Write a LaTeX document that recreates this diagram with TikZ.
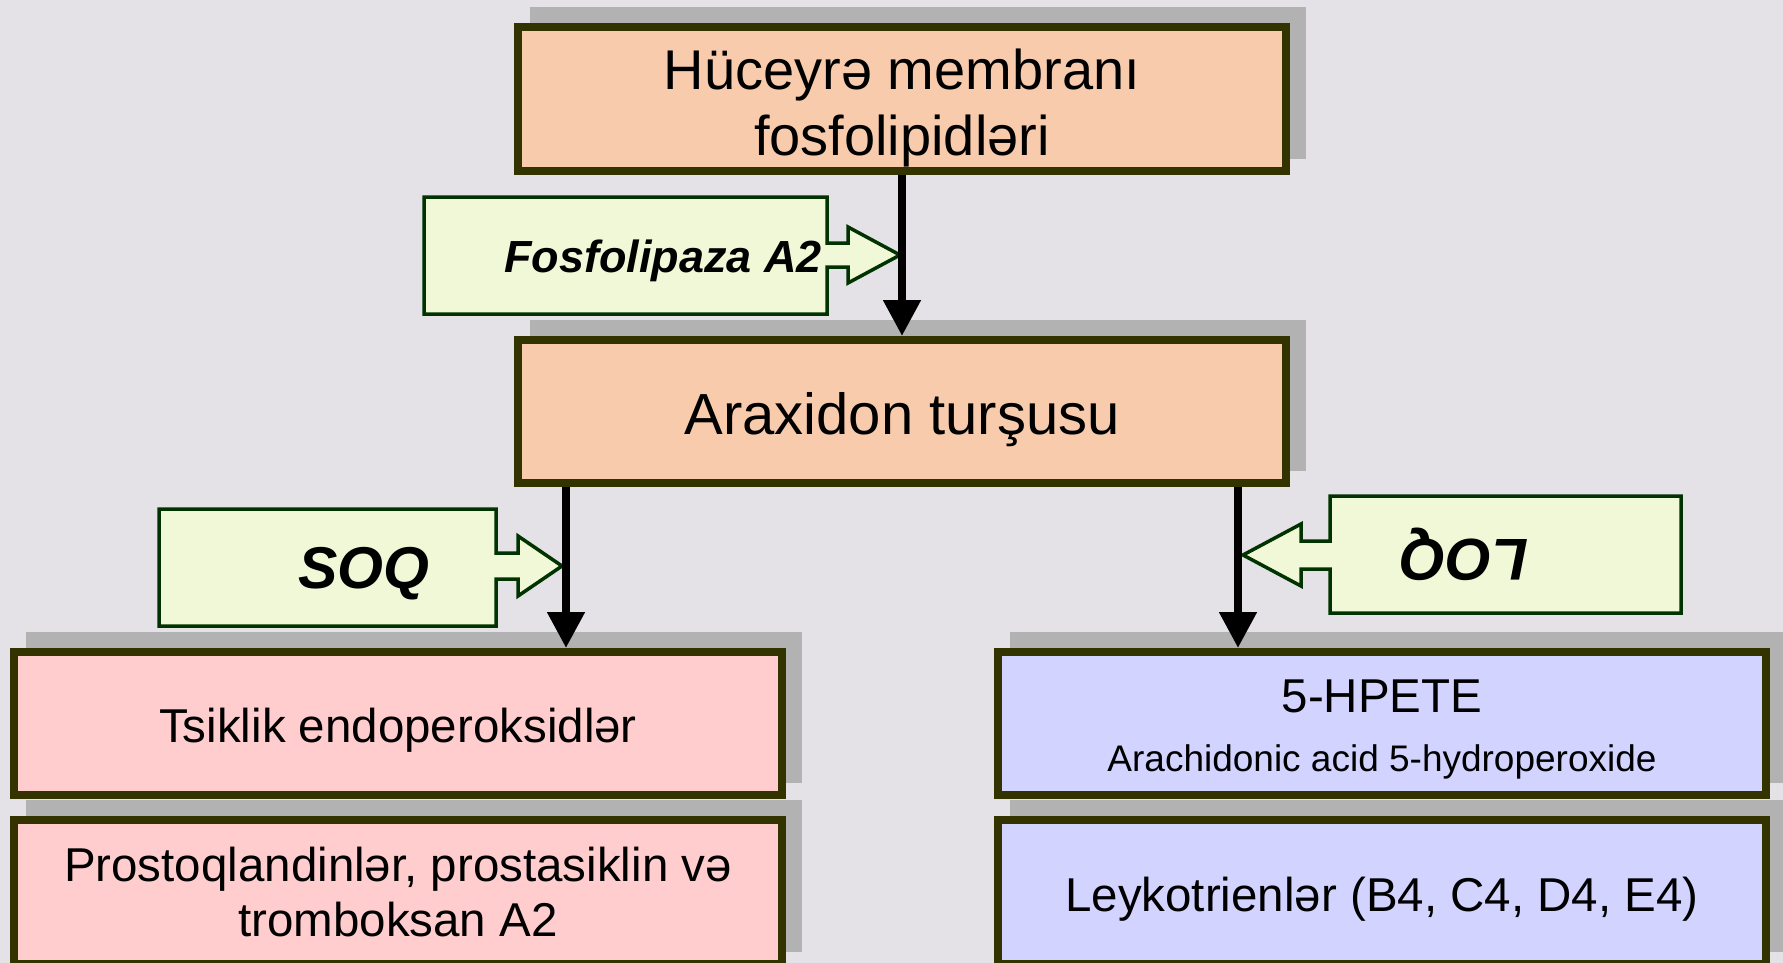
\documentclass[tikz,border=0pt]{standalone}
\usepackage{fontspec}
\setmainfont{Liberation Sans}
\usetikzlibrary{arrows.meta}

\definecolor{paper}{RGB}{228,226,230}
\definecolor{shadowc}{RGB}{178,178,178}
\definecolor{edgeolive}{RGB}{51,51,0}
\definecolor{peach}{RGB}{248,203,173}
\definecolor{rose}{RGB}{255,205,205}
\definecolor{lavender}{RGB}{211,211,255}
\definecolor{leaf}{RGB}{241,248,215}
\definecolor{leafedge}{RGB}{0,51,0}

\pgfdeclarelayer{back}
\pgfdeclarelayer{shade}
\pgfsetlayers{back,shade,main}

\tikzset{
  stage/.style={draw=edgeolive, line width=8pt, minimum width=768pt,
    minimum height=143pt, inner sep=0pt},
  stagetext/.style={align=center, inner sep=0pt, text=black},
  enzyme/.style={draw=leafedge, fill=leaf, line width=3.5pt, line join=miter},
  enzlabel/.style={font=\fontsize{45}{54}\selectfont\bfseries\itshape, inner sep=0pt},
  biglabel/.style={font=\fontsize{59}{70}\selectfont\bfseries\itshape, inner sep=0pt},
  flow/.style={draw=black, line width=8pt,
    -{Triangle[width=36pt,length=36pt]}},
}

% grey drop shadow behind a stage box, offset up and to the right
\newcommand\stageshadow[1]{%
  \begin{pgfonlayer}{shade}
    \fill[shadowc] ([shift={(16pt,16pt)}]#1.south west)
      rectangle ([shift={(16pt,16pt)}]#1.north east);
  \end{pgfonlayer}}

\begin{document}
\begin{tikzpicture}[x=1pt,y=-1pt]
  \useasboundingbox (0,0) rectangle (1783,963);
  \begin{pgfonlayer}{back}
    \fill[paper] (0,0) rectangle (1783,963);
  \end{pgfonlayer}

  % main pathway boxes
  \node[stage, fill=peach, minimum height=144pt] (membrane) at (902,99) {};
  \node[stage, fill=peach] (arax) at (902,411.5) {};
  \node[stage, fill=rose] (tsik) at (398,723.5) {};
  \node[stage, fill=rose, minimum height=144pt] (prosta) at (398,892) {};
  \node[stage, fill=lavender] (hpete) at (1382,723.5) {};
  \node[stage, fill=lavender, minimum height=144pt] (leuko) at (1382,892) {};

  % box texts
  \node[stagetext, font=\fontsize{56}{66}\selectfont, yshift=-9pt]
        (membranetext) at (membrane.center) {Hüceyrə membranı\\fosfolipidləri};
  \node[stagetext, font=\fontsize{58}{68}\selectfont, yshift=-8pt]
        (araxtext) at (arax.center) {Araxidon turşusu};
  \node[stagetext, font=\fontsize{47.5}{55}\selectfont, yshift=-7pt]
        (tsiktext) at (tsik.center) {Tsiklik endoperoksidlər};
  \node[stagetext, font=\fontsize{47.5}{55}\selectfont]
        (prostatext) at (prosta.center) {Prostoqlandinlər, prostasiklin və\\tromboksan A2};
  \node[stagetext, font=\fontsize{47.5}{55}\selectfont, yshift=27pt]
        (hpetename) at (hpete.center) {5-HPETE};
  \node[stagetext, font=\fontsize{37}{44}\selectfont, yshift=-38pt]
        (hpetefull) at (hpete.center) {Arachidonic acid 5-hydroperoxide};
  \node[stagetext, font=\fontsize{47.5}{55}\selectfont, yshift=-7pt]
        (leukotext) at (leuko.center) {Leykotrienlər (B4, C4, D4, E4)};

  \stageshadow{membrane}
  \stageshadow{arax}
  \stageshadow{tsik}
  \stageshadow{prosta}
  \stageshadow{hpete}
  \stageshadow{leuko}

  % enzyme callouts
  \draw[enzyme] (424,197) -- (827,197) -- (827,243) -- (848,243) -- (848,227)
    -- (900,255) -- (848,283) -- (848,267) -- (827,267) -- (827,314)
    -- (424,314) -- cycle;
  \node[enzlabel] (pla2) at (663,261) {Fosfolipaza A2};

  \draw[enzyme] (159,509) -- (496,509) -- (496,553) -- (518,553) -- (518,536)
    -- (562,566) -- (518,596) -- (518,579) -- (496,579) -- (496,626)
    -- (159,626) -- cycle;
  \node[biglabel] (cox) at (364,574) {SOQ};

  \draw[enzyme] (1681,496) -- (1330,496) -- (1330,541) -- (1301,541) -- (1301,524)
    -- (1243,555) -- (1301,586) -- (1301,569) -- (1330,569) -- (1330,613)
    -- (1681,613) -- cycle;
  \node[biglabel, rotate=180] (lox) at (1465,554) {LOQ};

  % reaction arrows
  \coordinate (coxline) at (566,0);
  \coordinate (loxline) at (1238,0);
  \draw[flow] (membrane.south) -- (arax.north);
  \draw[flow] (arax.south -| coxline) -- (tsik.north -| coxline);
  \draw[flow] (arax.south -| loxline) -- (hpete.north -| loxline);
\end{tikzpicture}
\end{document}
